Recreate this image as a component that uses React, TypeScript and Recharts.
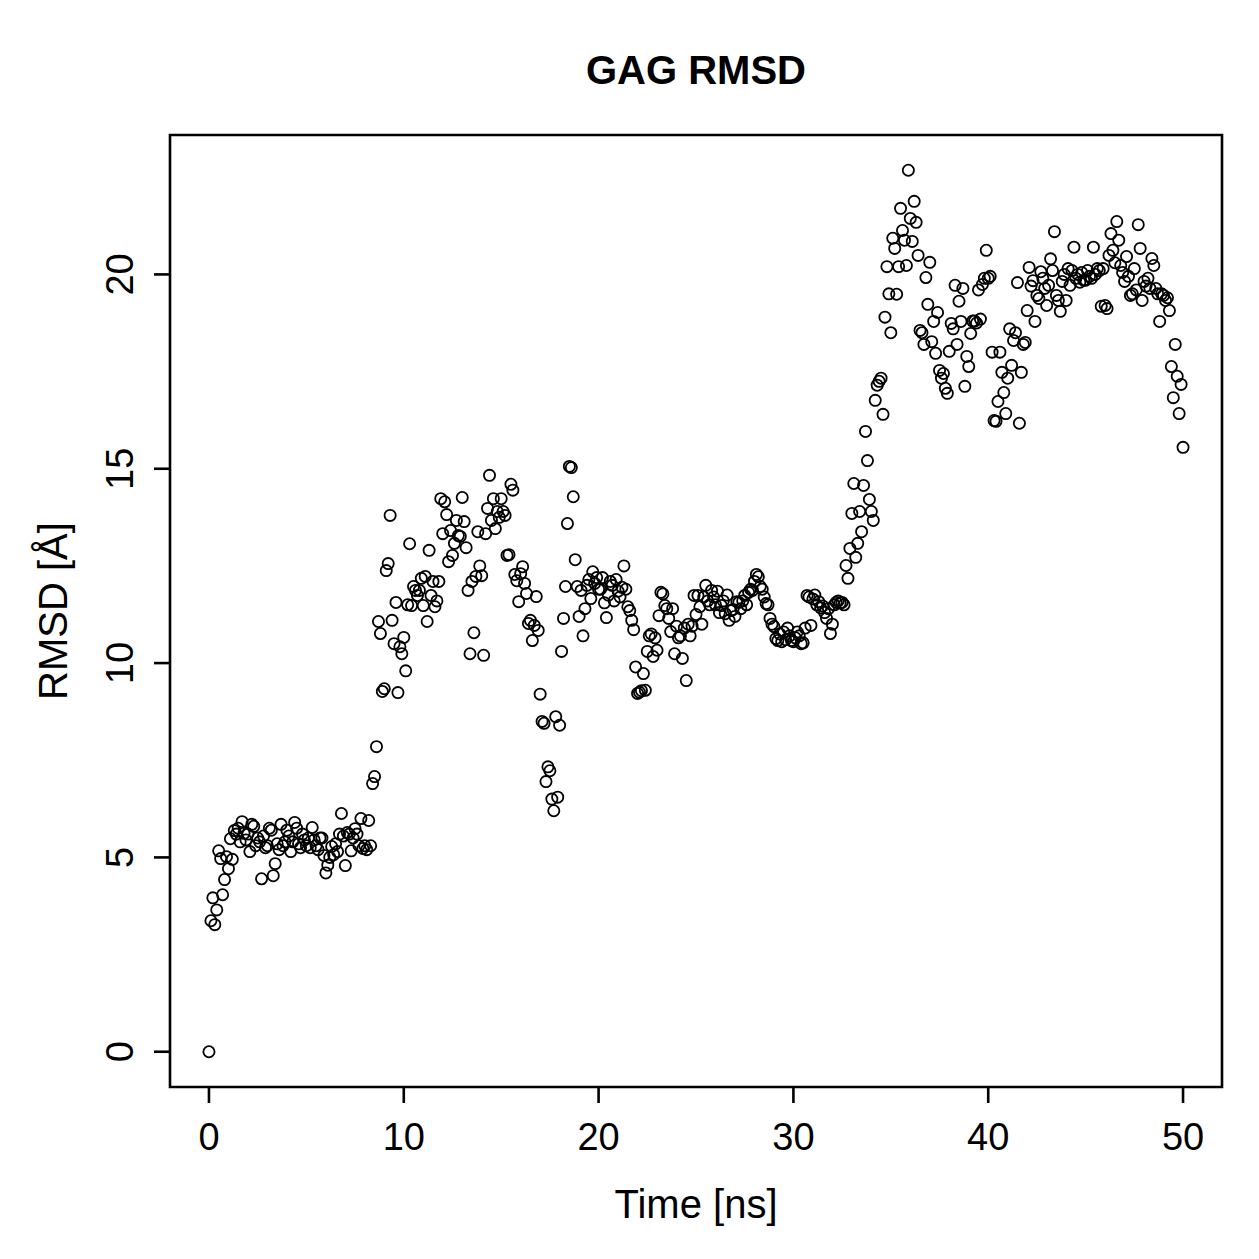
import { ScatterChart, Scatter, XAxis, YAxis, ReferenceArea } from "recharts";

const FONT = '"Liberation Sans", Arial, Helvetica, sans-serif';
const W = 1259;
const H = 1259;

// plot region (px), base-graphics style layout
const PLOT = { left: 170, top: 135, right: 1222, bottom: 1087 };

// trajectory frames are written every 0.1 ns
const TIME_STEP = 0.1;

const X_TICKS = [0, 10, 20, 30, 40, 50];
const Y_TICKS = [0, 5, 10, 15, 20];

// RMSD per frame, Å
const RMSD_0_10 = [
  0, 3.37, 3.96, 3.27, 3.65, 5.17, 4.97, 4.04, 4.43, 5.02,
  4.71, 5.48, 4.95, 5.69, 5.6, 5.75, 5.4, 5.92, 5.62, 5.45,
  5.6, 5.15, 5.85, 5.8, 5.3, 5.5, 5.4, 4.45, 5.55, 5.25,
  5.3, 5.75, 5.7, 4.53, 4.84, 5.35, 5.2, 5.85, 5.3, 5.4,
  5.7, 5.55, 5.15, 5.4, 5.9, 5.75, 5.35, 5.25, 5.6, 5.45,
  5.3, 5.5, 5.25, 5.77, 5.45, 5.3, 5.2, 5.5, 5.5, 5.05,
  4.6, 4.8, 5.0, 5.28, 5.07, 5.35, 5.15, 5.6, 6.13, 5.55,
  4.79, 5.64, 5.6, 5.17, 5.5, 5.74, 5.6, 5.3, 6.0, 5.23,
  5.3, 5.2, 5.95, 5.3, 6.9, 7.08, 7.85, 11.07, 10.76, 9.27,
  9.34, 12.38, 12.56, 13.8, 11.1, 10.5, 11.56, 9.24, 10.42, 10.24,
];

const RMSD_10_20 = [
  10.66, 9.8, 11.5, 13.07, 11.48, 11.97, 11.87, 11.74, 11.87, 12.18,
  11.48, 12.23, 11.07, 12.9, 11.74, 12.1, 11.45, 11.6, 12.1, 14.23,
  13.33, 14.15, 13.82, 12.61, 13.41, 12.77, 13.08, 13.67, 13.28, 13.26,
  14.26, 13.64, 12.97, 11.87, 10.24, 12.1, 10.78, 12.23, 13.38, 12.5,
  12.25, 10.2, 13.33, 13.98, 14.83, 13.67, 14.23, 13.46, 13.9, 13.75,
  14.23, 13.9, 13.8, 12.77, 12.79, 14.6, 14.45, 12.28, 12.12, 11.58,
  12.3, 12.48, 12.05, 11.79, 11.02, 11.1, 10.58, 10.97, 11.71, 10.84,
  9.2, 8.5, 8.45, 6.95, 7.33, 7.23, 6.5, 6.2, 8.62, 6.55,
  8.4, 10.3, 11.15, 11.97, 13.59, 15.06, 15.03, 14.28, 12.66, 11.97,
  11.2, 11.87, 10.7, 11.4, 12.0, 12.15, 11.66, 12.35, 12.05, 12.2,
];

const RMSD_20_30 = [
  11.9, 11.9, 12.2, 11.55, 11.17, 11.75, 12.1, 12.0, 11.6, 12.15,
  11.85, 11.7, 11.95, 12.5, 11.9, 11.45, 11.35, 11.1, 10.86, 9.9,
  9.22, 9.25, 9.29, 9.73, 9.3, 10.3, 10.7, 10.75, 10.17, 10.65,
  10.33, 11.22, 11.82, 11.78, 11.48, 11.4, 11.15, 10.81, 11.4, 10.24,
  10.95, 10.65, 10.7, 10.12, 10.9, 9.55, 11.0, 10.7, 10.95, 11.74,
  11.25, 11.74, 11.45, 11.0, 11.7, 12.0, 11.6, 11.5, 11.87, 11.7,
  11.5, 11.85, 11.3, 11.48, 11.6, 11.27, 11.75, 11.1, 11.35, 11.38,
  11.2, 11.58, 11.56, 11.4, 11.6, 11.74, 11.5, 11.82, 11.9, 11.87,
  12.1, 12.28, 12.22, 11.97, 11.9, 11.7, 11.53, 11.5, 11.15, 11.0,
  10.94, 10.63, 10.58, 10.75, 10.55, 10.8, 10.6, 10.9, 10.7, 10.58,
];

const RMSD_30_40 = [
  10.55, 10.65, 10.8, 10.7, 10.5, 10.52, 10.9, 11.74, 11.7, 10.97,
  11.65, 11.75, 11.5, 11.58, 11.42, 11.47, 11.3, 11.15, 11.4, 10.76,
  11.0, 11.5, 11.56, 11.6, 11.55, 11.56, 11.5, 12.51, 12.18, 12.95,
  13.85, 14.62, 12.72, 13.08, 13.9, 13.38, 14.57, 15.96, 15.21, 14.21,
  13.9, 13.67, 16.76, 17.15, 17.25, 17.33, 16.4, 18.9, 20.2, 19.5,
  18.5, 20.93, 20.67, 19.49, 20.2, 21.7, 21.13, 20.88, 20.23, 22.68,
  21.44, 20.85, 21.88, 21.34, 20.49, 18.56, 18.5, 18.2, 19.92, 19.23,
  20.31, 18.27, 18.79, 17.97, 19.02, 17.53, 17.33, 17.45, 17.07, 16.94,
  18.02, 18.74, 18.6, 19.72, 18.2, 19.31, 18.79, 19.64, 17.12, 17.89,
  17.63, 18.48, 18.8, 18.8, 18.75, 19.6, 18.85, 19.74, 19.9, 20.62,
];

const RMSD_40_50 = [
  19.9, 19.95, 18.0, 16.24, 16.22, 16.73, 18.0, 17.48, 16.96, 16.42,
  17.33, 18.6, 17.66, 18.3, 18.5, 19.79, 16.17, 17.48, 18.2, 18.25,
  19.07, 20.18, 19.7, 19.84, 18.79, 19.46, 19.38, 20.07, 19.9, 19.64,
  19.2, 19.72, 20.4, 20.1, 21.1, 19.46, 19.33, 19.05, 19.82, 20.0,
  19.33, 20.15, 19.72, 20.1, 20.7, 19.9, 20.0, 19.8, 20.05, 19.85,
  19.85, 20.1, 19.95, 19.9, 20.7, 20.0, 20.15, 20.1, 19.18, 20.15,
  19.2, 19.12, 20.49, 21.05, 20.62, 20.3, 21.36, 20.88, 20.23, 20.05,
  19.82, 20.46, 19.95, 19.46, 19.5, 20.15, 19.6, 21.28, 20.67, 19.33,
  19.82, 19.7, 19.9, 19.64, 20.41, 20.23, 19.64, 19.5, 18.79, 19.5,
  19.46, 19.33, 19.4, 19.07, 17.63, 16.83, 18.2, 17.38, 16.42, 17.17,
  15.55,
];

const rmsd = [...RMSD_0_10, ...RMSD_10_20, ...RMSD_20_30, ...RMSD_30_40, ...RMSD_40_50];
const data = rmsd.map((v, i) => ({ time: Math.round(i * TIME_STEP * 10) / 10, rmsd: v }));

// 4% axis padding like R's default xaxs/yaxs = "r"
const tMax = data[data.length - 1].time;
const xPad = tMax * 0.04;
const xDomain: [number, number] = [-xPad, tMax + xPad];
const yLo = Math.min(...rmsd);
const yHi = Math.max(...rmsd);
const yPad = (yHi - yLo) * 0.04;
const yDomain: [number, number] = [yLo - yPad, yHi + yPad];

const Ring = (props: any) => (
  <circle cx={props.cx} cy={props.cy} r={5.6} fill="none" stroke="#000" strokeWidth={1.8} />
);

const XTick = ({ x, payload }: any) => (
  <text x={x} y={PLOT.bottom + 63} textAnchor="middle" fontSize={38} fontFamily={FONT} fill="#000">
    {payload.value}
  </text>
);

const YTick = ({ y, payload }: any) => (
  <text
    x={133}
    y={y}
    transform={`rotate(-90 133 ${y})`}
    textAnchor="middle"
    fontSize={38}
    fontFamily={FONT}
    fill="#000"
  >
    {payload.value}
  </text>
);

export default function App() {
  const cx = (PLOT.left + PLOT.right) / 2;
  const cy = (PLOT.top + PLOT.bottom) / 2;
  return (
    <div style={{ position: "absolute", left: 0, top: 0, width: W, height: H, background: "#fff" }}>
      <ScatterChart
        width={W}
        height={H}
        margin={{ top: PLOT.top, right: W - PLOT.right, bottom: H - PLOT.bottom - 100, left: PLOT.left - 100 }}
      >
        <XAxis
          type="number"
          dataKey="time"
          domain={xDomain}
          ticks={X_TICKS}
          allowDataOverflow
          height={100}
          axisLine={false}
          tickLine={{ stroke: "#000", strokeWidth: 2.6 }}
          tickSize={16}
          tick={<XTick />}
          interval={0}
        />
        <YAxis
          type="number"
          dataKey="rmsd"
          domain={yDomain}
          ticks={Y_TICKS}
          allowDataOverflow
          width={100}
          axisLine={false}
          tickLine={{ stroke: "#000", strokeWidth: 2.6 }}
          tickSize={16}
          tick={<YTick />}
          interval={0}
        />
        <ReferenceArea
          x1={xDomain[0]}
          x2={xDomain[1]}
          y1={yDomain[0]}
          y2={yDomain[1]}
          fill="none"
          stroke="#000"
          strokeWidth={2.6}
          ifOverflow="visible"
        />
        <Scatter data={data} shape={<Ring />} isAnimationActive={false} />
      </ScatterChart>
      <svg
        width={W}
        height={H}
        style={{ position: "absolute", left: 0, top: 0, pointerEvents: "none" }}
        fontFamily={FONT}
      >
        <text x={cx} y={84} textAnchor="middle" fontSize={40} fontWeight="bold" fill="#000">
          GAG RMSD
        </text>
        <text x={cx} y={1218} textAnchor="middle" fontSize={40} fill="#000">
          Time [ns]
        </text>
        <text x={67} y={cy} transform={`rotate(-90 67 ${cy})`} textAnchor="middle" fontSize={40} fill="#000">
          RMSD [Å]
        </text>
      </svg>
    </div>
  );
}
